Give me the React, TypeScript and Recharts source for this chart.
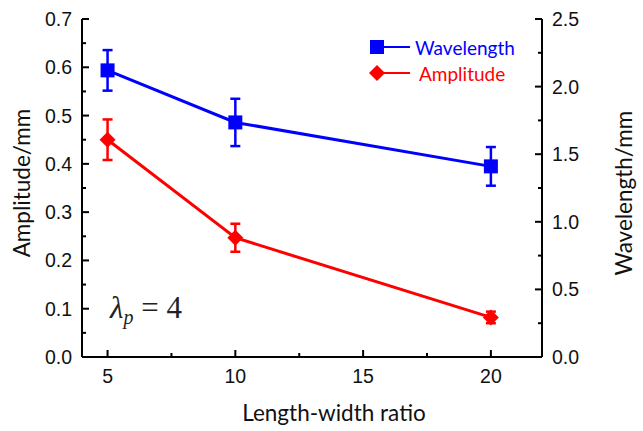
import { LineChart, Line, XAxis, YAxis, ErrorBar, Legend, Label } from "recharts";

const ratios = [5, 10, 20];
const amplitude = [0.45, 0.247, 0.082];
const amplitudeErr = [0.042, 0.029, 0.012];
const wavelength = [2.12, 1.735, 1.41];
const wavelengthErr = [0.15, 0.175, 0.143];

const xTicks = [5, 7.5, 10, 12.5, 15, 17.5, 20];
const xMajor = [5, 10, 15, 20];
const ampTicks = [0, 0.05, 0.1, 0.15, 0.2, 0.25, 0.3, 0.35, 0.4, 0.45, 0.5, 0.55, 0.6, 0.65, 0.7];
const ampMajor = [0, 0.1, 0.2, 0.3, 0.4, 0.5, 0.6, 0.7];
const wlTicks = [0, 0.25, 0.5, 0.75, 1, 1.25, 1.5, 1.75, 2, 2.25, 2.5];
const wlMajor = [0, 0.5, 1, 1.5, 2, 2.5];

const data = ratios.map((r, i) => ({
  ratio: r,
  amplitude: amplitude[i],
  amplitudeErr: amplitudeErr[i],
  wavelength: wavelength[i],
  wavelengthErr: wavelengthErr[i],
}));

const BLUE = "#0000ff";
const RED = "#ff0000";
const TICK_FONT = "'Liberation Sans', Arial, sans-serif";
const TITLE_FONT = "Lato, 'Open Sans', sans-serif";
const GAP = 10;

const isMajor = (list: number[], v: number) => list.some((m) => Math.abs(m - v) < 1e-6);

const LeftTick = (props: any) => {
  const { x, y, payload } = props;
  const v = payload.value;
  const major = isMajor(ampMajor, v);
  const ax = x + GAP;
  return (
    <g>
      <line x1={ax} x2={ax + (major ? 7 : 4)} y1={y} y2={y} stroke="#000" strokeWidth={2} />
      {major && (
        <text x={x} y={y} dy="0.36em" textAnchor="end" fontSize={19.5} fontFamily={TICK_FONT} fill="#111">
          {v.toFixed(1)}
        </text>
      )}
    </g>
  );
};

const RightTick = (props: any) => {
  const { x, y, payload } = props;
  const v = payload.value;
  const major = isMajor(wlMajor, v);
  const ax = x - GAP;
  return (
    <g>
      <line x1={ax} x2={ax - (major ? 7 : 4)} y1={y} y2={y} stroke="#000" strokeWidth={2} />
      {major && (
        <text x={x} y={y} dy="0.36em" textAnchor="start" fontSize={19.5} fontFamily={TICK_FONT} fill="#111">
          {v.toFixed(1)}
        </text>
      )}
    </g>
  );
};

const BottomTick = (props: any) => {
  const { x, y, payload } = props;
  const v = payload.value;
  const major = isMajor(xMajor, v);
  const ay = y - GAP;
  return (
    <g>
      <line x1={x} x2={x} y1={ay} y2={ay - (major ? 7 : 4)} stroke="#000" strokeWidth={2} />
      {major && (
        <text x={x} y={y + 16} textAnchor="middle" fontSize={19.5} fontFamily={TICK_FONT} fill="#111">
          {v}
        </text>
      )}
    </g>
  );
};

const SquareDot = (props: any) => {
  const { cx, cy } = props;
  if (cx == null || cy == null) return null;
  return <rect x={cx - 7} y={cy - 7} width={14} height={14} fill={BLUE} />;
};

const DiamondDot = (props: any) => {
  const { cx, cy } = props;
  if (cx == null || cy == null) return null;
  return <polygon points={`${cx},${cy - 8} ${cx + 8},${cy} ${cx},${cy + 8} ${cx - 8},${cy}`} fill={RED} />;
};

const legendItems = [
  { name: "Wavelength", color: BLUE, shape: "square" },
  { name: "Amplitude", color: RED, shape: "diamond" },
];

const renderLegend = () => (
  <div style={{ display: "flex", flexDirection: "column", gap: 4 }}>
    {legendItems.map((it) => (
      <div key={it.name} style={{ display: "flex", alignItems: "center", height: 22 }}>
        <svg width={46} height={22}>
          <line x1={8} x2={41} y1={11} y2={11} stroke={it.color} strokeWidth={2} />
          {it.shape === "square" ? (
            <rect x={1} y={4} width={14} height={14} fill={it.color} />
          ) : (
            <polygon points="8,3 16,11 8,19 0,11" fill={it.color} />
          )}
        </svg>
        <span style={{ color: it.color, fontFamily: TITLE_FONT, fontSize: 19, marginLeft: it.shape === "square" ? 0 : 4 }}>
          {it.name}
        </span>
      </div>
    ))}
  </div>
);

export default function App() {
  return (
    <div style={{ position: "absolute", left: 0, top: 0, width: 643, height: 431, background: "#fff" }}>
      <LineChart
        width={643}
        height={431}
        data={data}
        margin={{ top: 19, right: 39, left: 20, bottom: 44 }}
      >
        <XAxis
          dataKey="ratio"
          type="number"
          domain={[4, 22]}
          ticks={xTicks}
          tick={<BottomTick />}
          tickLine={false}
          tickSize={0}
          tickMargin={GAP}
          height={30}
          axisLine={{ stroke: "#000", strokeWidth: 2 }}
          interval={0}
        >
          <Label
            value="Length-width ratio"
            position="center"
            dx={22}
            dy={41}
            style={{ fontFamily: TITLE_FONT, fontSize: 22.5, fill: "#111" }}
          />
        </XAxis>
        <XAxis
          xAxisId="top"
          orientation="top"
          dataKey="ratio"
          type="number"
          domain={[4, 22]}
          tick={false}
          tickLine={false}
          height={0}
          axisLine={{ stroke: "#000", strokeWidth: 2 }}
        />
        <YAxis
          yAxisId="amp"
          domain={[0, 0.7]}
          ticks={ampTicks}
          tick={<LeftTick />}
          tickLine={false}
          tickSize={0}
          tickMargin={GAP}
          width={62}
          interval={0}
          axisLine={{ stroke: "#000", strokeWidth: 2 }}
        >
          <Label
            value="Amplitude/mm"
            angle={-90}
            position="center"
            dx={-29}
            dy={-5}
            style={{ fontFamily: TITLE_FONT, fontSize: 22.5, fill: "#111", textAnchor: "middle" }}
          />
        </YAxis>
        <YAxis
          yAxisId="wl"
          orientation="right"
          domain={[0, 2.5]}
          ticks={wlTicks}
          tick={<RightTick />}
          tickLine={false}
          tickSize={0}
          tickMargin={GAP}
          width={62}
          interval={0}
          axisLine={{ stroke: "#000", strokeWidth: 2 }}
        >
          <Label
            value="Wavelength/mm"
            angle={-90}
            position="center"
            dx={51}
            dy={5}
            style={{ fontFamily: TITLE_FONT, fontSize: 22.5, fill: "#111", textAnchor: "middle" }}
          />
        </YAxis>
        <Legend
          layout="horizontal"
          verticalAlign="middle"
          align="center"
          content={renderLegend}
          wrapperStyle={{ left: 369, top: 36, width: 170, height: 52 }}
        />
        <Line
          yAxisId="wl"
          dataKey="wavelength"
          stroke={BLUE}
          strokeWidth={3}
          dot={<SquareDot />}
          activeDot={false}
          isAnimationActive={false}
        >
          <ErrorBar dataKey="wavelengthErr" direction="y" width={5} stroke={BLUE} strokeWidth={2.5} />
        </Line>
        <Line
          yAxisId="amp"
          dataKey="amplitude"
          stroke={RED}
          strokeWidth={3}
          dot={<DiamondDot />}
          activeDot={false}
          isAnimationActive={false}
        >
          <ErrorBar dataKey="amplitudeErr" direction="y" width={5} stroke={RED} strokeWidth={2.5} />
        </Line>
      </LineChart>
      <div
        style={{
          position: "absolute",
          left: 110,
          top: 290,
          fontFamily: "'Liberation Serif', 'Times New Roman', serif",
          fontSize: 31,
          color: "#222",
          whiteSpace: "nowrap",
        }}
      >
        <span style={{ fontStyle: "italic" }}>λ</span>
        <sub style={{ fontStyle: "italic", fontSize: 20, verticalAlign: -6 }}>p</sub>
        <span> = 4</span>
      </div>
    </div>
  );
}
